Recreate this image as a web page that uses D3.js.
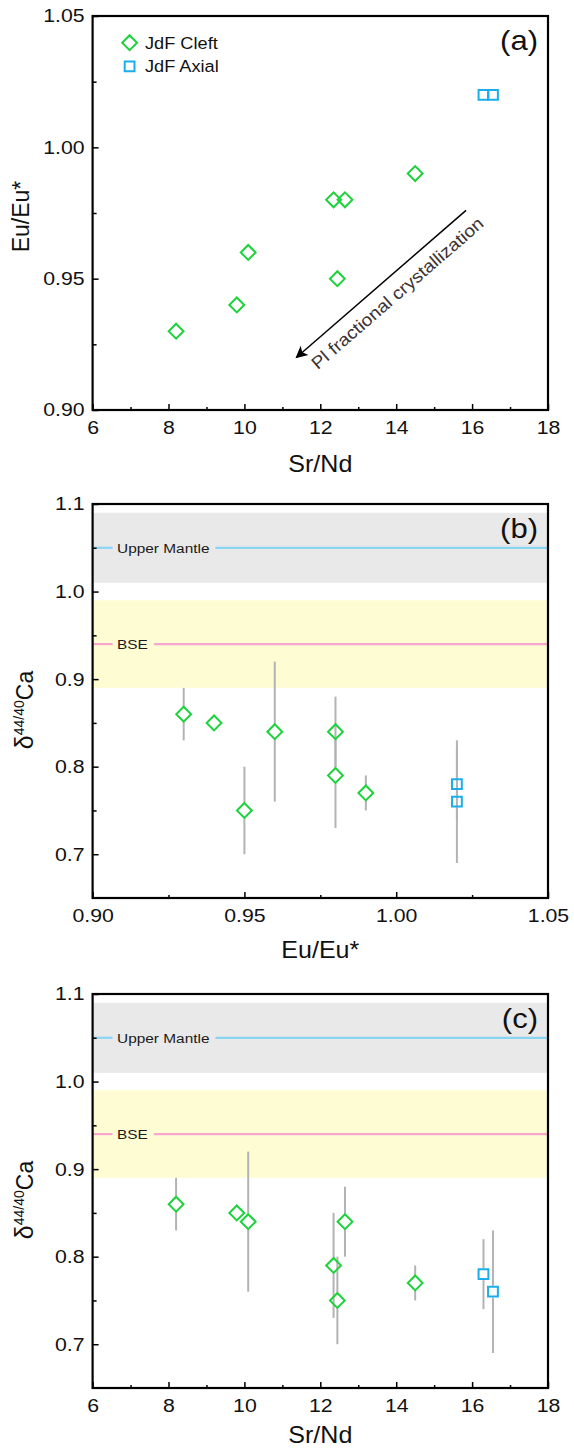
<!DOCTYPE html>
<html>
<head>
<meta charset="utf-8">
<script src="https://cdn.jsdelivr.net/npm/d3@7"></script>
<style>
  html, body { margin: 0; padding: 0; background: #fff; }
  svg { display: block; font-family: "Liberation Sans", Arial, sans-serif; }
</style>
</head>
<body>
<svg id="chart" width="574" height="1449"></svg>
<script>
// ---- Juan de Fuca basalts: Sr/Nd, Eu anomaly and Ca isotopes ----
const cleftSrNd  = [8.2, 9.8, 10.1, 12.45, 12.35, 12.65, 14.5];
const cleftEu    = [0.93, 0.94, 0.96, 0.95, 0.98, 0.98, 0.99];
const cleftCa    = [0.86, 0.85, 0.84, 0.75, 0.79, 0.84, 0.77];
const cleftCaErr = [0.03, 0, 0.08, 0.05, 0.06, 0.04, 0.02];

const axialSrNd  = [16.3, 16.55];
const axialEu    = [1.02, 1.02];
const axialCa    = [0.78, 0.76];
const axialCaErr = [0.04, 0.07];

const seriesNames = ["JdF Cleft", "JdF Axial"];

const srNdTicks = [6, 8, 10, 12, 14, 16, 18];
const srNdMinor = [7, 9, 11, 13, 15, 17];
const euTicks   = [0.90, 0.95, 1.00, 1.05];
const euMinor   = [0.925, 0.975, 1.025];
const caTicks   = [0.7, 0.8, 0.9, 1.0, 1.1];
const caMinor   = [0.75, 0.85, 0.95, 1.05];

// reference reservoirs (mean and range of delta44/40Ca)
const bandNames = ["Upper Mantle", "BSE"];
const bandMean  = [1.05, 0.94];
const bandLow   = [1.01, 0.89];
const bandHigh  = [1.09, 0.99];

// plagioclase fractionation trend in Sr/Nd vs Eu/Eu* space
const trendFrom  = [15.84, 0.976];
const trendTo    = [11.37, 0.920];
const trendLabel = "Pl fractional crystallization";

// ---- styling ----
const COL = {
  cleft: "#1ed23c", axial: "#1aaeea", err: "#b3b3b3",
  mantleBand: "#e9e9e9", bseBand: "#fefcd3",
  mantleLine: "#8ad5f2", bseLine: "#f8a6cf"
};
const bandFill = [COL.mantleBand, COL.bseBand];
const bandLine = [COL.mantleLine, COL.bseLine];

const svg = d3.select("#chart");
const X0 = 92.6, X1 = 548, PH = 394;

const cleft = cleftSrNd.map((s, i) => ({ srNd: s, eu: cleftEu[i], ca: cleftCa[i], err: cleftCaErr[i] }));
const axial = axialSrNd.map((s, i) => ({ srNd: s, eu: axialEu[i], ca: axialCa[i], err: axialCaErr[i] }));

const diamondPath = d3.symbol().type(d3.symbolSquare).size(110)();
const squarePath  = d3.symbol().type(d3.symbolSquare).size(96)();
const DIAMOND_R = 7.9, SQUARE_R = 5.9;

function stretch(sel, k) { sel.attr("transform", `scale(${k},1)`); }

function drawPanel(opt) {
  const top = opt.top, bottom = top + PH;
  const g = svg.append("g");
  const x = d3.scaleLinear().domain(opt.xDomain).range([X0, X1]);
  const y = d3.scaleLinear().domain(opt.yDomain).range([bottom, top]);

  // reference bands with labelled mean lines
  if (opt.bands) {
    bandNames.forEach((name, i) => {
      g.append("rect")
        .attr("x", X0).attr("width", X1 - X0)
        .attr("y", y(bandHigh[i])).attr("height", y(bandLow[i]) - y(bandHigh[i]))
        .attr("fill", bandFill[i]);
      const ly = y(bandMean[i]);
      const lab = g.append("g").attr("transform", `translate(${X0 + 24.5},${ly + 4.8})`);
      const t = lab.append("text").text(name)
        .attr("font-size", 13.5).attr("fill", "#1a1a1a");
      stretch(t, 1.14);
      const w = t.node().getComputedTextLength() * 1.14;
      g.append("line").attr("x1", X0).attr("x2", X0 + 24.5 - 4.5)
        .attr("y1", ly).attr("y2", ly)
        .attr("stroke", bandLine[i]).attr("stroke-width", 2.2);
      g.append("line").attr("x1", X0 + 24.5 + w + 6).attr("x2", X1)
        .attr("y1", ly).attr("y2", ly)
        .attr("stroke", bandLine[i]).attr("stroke-width", 2.2);
    });
  }

  // error bars, interrupted by the marker outline
  if (opt.errors) {
    const drawErr = (data, r) => {
      data.filter(d => d.err > 0).forEach(d => {
        const cx = x(d[opt.xKey]), cy = y(d.ca);
        const yTop = y(d.ca + d.err), yBot = y(d.ca - d.err);
        if (cy - r > yTop) g.append("line").attr("x1", cx).attr("x2", cx)
          .attr("y1", yTop).attr("y2", cy - r)
          .attr("stroke", COL.err).attr("stroke-width", 2);
        if (yBot > cy + r) g.append("line").attr("x1", cx).attr("x2", cx)
          .attr("y1", cy + r).attr("y2", yBot)
          .attr("stroke", COL.err).attr("stroke-width", 2);
      });
    };
    drawErr(cleft, DIAMOND_R);
    drawErr(axial, SQUARE_R);
  }

  // markers
  g.append("g").selectAll("path").data(cleft).join("path")
    .attr("d", diamondPath)
    .attr("transform", d => `translate(${x(d[opt.xKey])},${y(d[opt.yKey])}) rotate(45)`)
    .attr("fill", "none").attr("stroke", COL.cleft).attr("stroke-width", 2);
  g.append("g").selectAll("path").data(axial).join("path")
    .attr("d", squarePath)
    .attr("transform", d => `translate(${x(d[opt.xKey])},${y(d[opt.yKey])})`)
    .attr("fill", "none").attr("stroke", COL.axial).attr("stroke-width", 2);

  // axes: inward ticks, labels outside
  const styleAxis = (ax, labels) => {
    ax.select(".domain").remove();
    ax.selectAll(".tick line").attr("stroke", "#000").attr("stroke-width", 1.5);
    if (labels) {
      ax.selectAll(".tick text").attr("font-size", 18.5).attr("fill", "#111")
        .attr("font-family", "Liberation Sans, Arial, sans-serif");
      stretch(ax.selectAll(".tick text"), 1.15);
    } else {
      ax.selectAll(".tick text").remove();
    }
  };
  styleAxis(g.append("g").attr("transform", `translate(0,${bottom})`)
    .call(d3.axisBottom(x).tickValues(opt.xTicks).tickFormat(d3.format(opt.xFmt))
      .tickSize(-6).tickPadding(10.5)), true);
  styleAxis(g.append("g").attr("transform", `translate(0,${bottom})`)
    .call(d3.axisBottom(x).tickValues(opt.xMinor).tickSize(-3)), false);
  styleAxis(g.append("g").attr("transform", `translate(${X0},0)`)
    .call(d3.axisLeft(y).tickValues(opt.yTicks).tickFormat(d3.format(opt.yFmt))
      .tickSize(-6).tickPadding(7)), true);
  styleAxis(g.append("g").attr("transform", `translate(${X0},0)`)
    .call(d3.axisLeft(y).tickValues(opt.yMinor).tickSize(-4)), false);

  // frame
  g.append("rect").attr("x", X0).attr("y", top).attr("width", X1 - X0).attr("height", PH)
    .attr("fill", "none").attr("stroke", "#000").attr("stroke-width", 2.2);

  // x title
  const xt = g.append("g").attr("transform", `translate(${(X0 + X1) / 2},${bottom + opt.xTitleGap})`)
    .append("text").attr("text-anchor", "middle").attr("font-size", 23).attr("fill", "#111")
    .text(opt.xTitle);
  stretch(xt, 1.09);

  // y title
  const yt = g.append("g")
    .attr("transform", `translate(${opt.yTitleX},${(top + bottom) / 2 + opt.yTitleShift}) rotate(-90)`)
    .append("text").attr("text-anchor", "middle").attr("font-size", 23).attr("fill", "#111");
  opt.yTitle(yt);

  // panel tag
  const tag = g.append("g").attr("transform", `translate(${X1 - 10},${top + 33.5})`)
    .append("text").attr("text-anchor", "end").attr("font-size", 27).attr("fill", "#111")
    .text(opt.tag);
  stretch(tag, 1.15);

  return { g, x, y, top, bottom };
}

function caTitle(t) {
  t.append("tspan").attr("font-size", 25).text("δ");
  t.append("tspan").attr("font-size", 14).attr("dy", -9).text("44/40");
  t.append("tspan").attr("dy", 9).text("Ca");
}

// (a) Eu/Eu* vs Sr/Nd
const pa = drawPanel({
  top: 16, xDomain: [6, 18], yDomain: [0.90, 1.05],
  xTicks: srNdTicks, xMinor: srNdMinor, yTicks: euTicks, yMinor: euMinor,
  xFmt: "d", yFmt: ".2f", xKey: "srNd", yKey: "eu",
  xTitle: "Sr/Nd", xTitleGap: 62, yTitleX: 29, yTitleShift: 3.5,
  yTitle: t => t.text("Eu/Eu*"), tag: "(a)", bands: false, errors: false
});

// legend
const lg = pa.g.append("g");
const legendRows = [
  { name: seriesNames[0], path: diamondPath, rot: 45, col: COL.cleft, dy: 26.7 },
  { name: seriesNames[1], path: squarePath, rot: 0, col: COL.axial, dy: 50.3 }
];
legendRows.forEach(r => {
  lg.append("path").attr("d", r.path)
    .attr("transform", `translate(${X0 + 37},${pa.top + r.dy}) rotate(${r.rot})`)
    .attr("fill", "none").attr("stroke", r.col).attr("stroke-width", 2);
  const t = lg.append("g").attr("transform", `translate(${X0 + 52.4},${pa.top + r.dy + 6})`)
    .append("text").attr("font-size", 17).attr("fill", "#111").text(r.name);
  stretch(t, 1.07);
});

// trend arrow
const defs = svg.append("defs");
defs.append("marker").attr("id", "head")
  .attr("viewBox", "0 0 10 10").attr("refX", 9).attr("refY", 5)
  .attr("markerUnits", "userSpaceOnUse").attr("markerWidth", 16).attr("markerHeight", 12)
  .attr("orient", "auto")
  .append("path").attr("d", "M0,0 L10,5 L0,10 L2.5,5 Z").attr("fill", "#000");
const p1 = [pa.x(trendFrom[0]), pa.y(trendFrom[1])];
const p0 = [pa.x(trendTo[0]), pa.y(trendTo[1])];
pa.g.append("line")
  .attr("x1", p1[0]).attr("y1", p1[1]).attr("x2", p0[0]).attr("y2", p0[1])
  .attr("stroke", "#000").attr("stroke-width", 1.5).attr("marker-end", "url(#head)");
const len = Math.hypot(p1[0] - p0[0], p1[1] - p0[1]);
const u = [(p1[0] - p0[0]) / len, (p1[1] - p0[1]) / len];
const n = [-u[1], u[0]];
const ang = Math.atan2(u[1], u[0]) * 180 / Math.PI;
const lp = [p0[0] + 7.7 * u[0] + 23.6 * n[0], p0[1] + 7.7 * u[1] + 23.6 * n[1]];
const at = pa.g.append("g").attr("transform", `translate(${lp[0]},${lp[1]}) rotate(${ang})`)
  .append("text").attr("font-size", 17.5).attr("fill", "#3b3333").text(trendLabel);
stretch(at, 1.1);

// (b) delta44/40Ca vs Eu/Eu*
drawPanel({
  top: 504, xDomain: [0.90, 1.05], yDomain: [0.65, 1.10],
  xTicks: euTicks, xMinor: euMinor, yTicks: caTicks, yMinor: caMinor,
  xFmt: ".2f", yFmt: ".1f", xKey: "eu", yKey: "ca",
  xTitle: "Eu/Eu*", xTitleGap: 60, yTitleX: 33, yTitleShift: 9,
  yTitle: caTitle, tag: "(b)", bands: true, errors: true
});

// (c) delta44/40Ca vs Sr/Nd
drawPanel({
  top: 994, xDomain: [6, 18], yDomain: [0.65, 1.10],
  xTicks: srNdTicks, xMinor: srNdMinor, yTicks: caTicks, yMinor: caMinor,
  xFmt: "d", yFmt: ".1f", xKey: "srNd", yKey: "ca",
  xTitle: "Sr/Nd", xTitleGap: 55, yTitleX: 33, yTitleShift: 9,
  yTitle: caTitle, tag: "(c)", bands: true, errors: true
});
</script>
</body>
</html>
